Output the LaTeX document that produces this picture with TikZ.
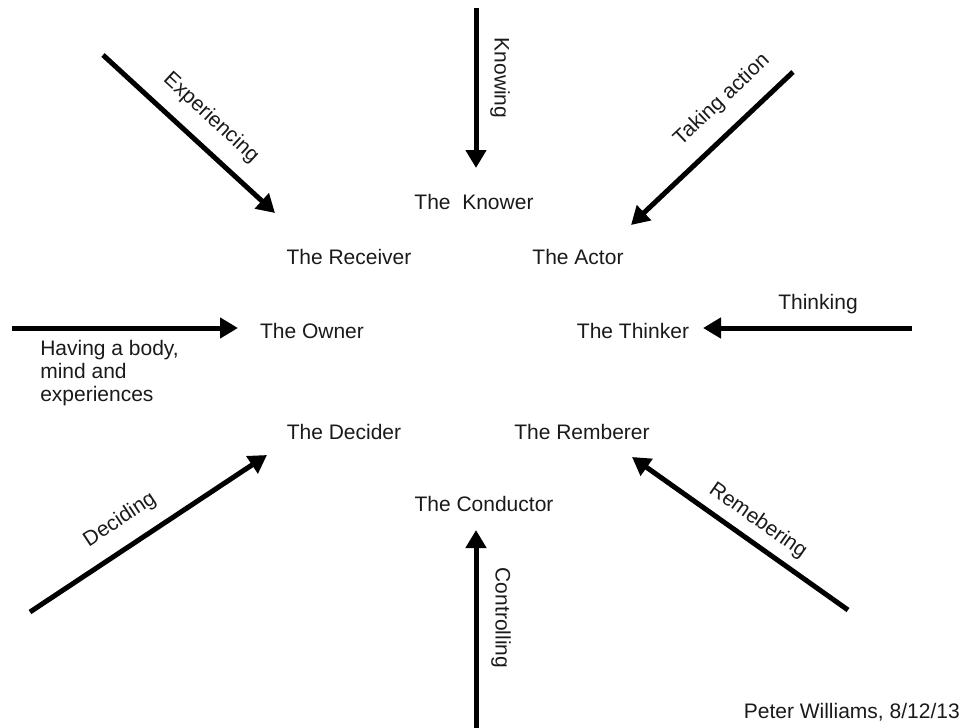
\documentclass[tikz,border=0pt]{standalone}
\usepackage{fontspec}
\setmainfont{Liberation Sans}
\usetikzlibrary{arrows.meta}

\begin{document}
\begin{tikzpicture}[x=0.75pt,y=-0.75pt]
    \def\arrowWidth{3.75pt}
    \definecolor{textColour}{HTML}{1A1A1A}
    \tikzset{
        role/.style={anchor=base,inner sep=0pt,text=textColour,font=\fontsize{15.75}{17.25}\selectfont},
        verb/.style={inner sep=0pt,text=textColour,font=\fontsize{15.75}{17.25}\selectfont},
        flow/.style={line width=\arrowWidth,-{Triangle[length=13.5pt,width=15pt]}}
    }

    % Fix the page size
    \useasboundingbox (0,0) rectangle (961,728);

    % Roles round the ring
    \node[role] (knower)    at (474,209) {The~\ Knower};
    \node[role] (receiver)  at (349,264) {The Receiver};
    \node[role] (actor)     at (578,264) {The Actor};
    \node[role] (owner)     at (312,338) {The Owner};
    \node[role] (thinker)   at (633,338) {The Thinker};
    \node[role] (decider)   at (344,439) {The Decider};
    \node[role] (remberer)  at (582,439) {The Remberer};
    \node[role] (conductor) at (484,511) {The Conductor};

    % Arrow ends
    \coordinate (knowTail) at (476,8);   \coordinate (knowTip) at (476,168);
    \coordinate (expTail)  at (103,55);  \coordinate (expTip)  at (275,213);
    \coordinate (actTail)  at (793,72);  \coordinate (actTip)  at (631,225);
    \coordinate (bodyTail) at (12,328);  \coordinate (bodyTip) at (238,328);
    \coordinate (thinkTail) at (912,328); \coordinate (thinkTip) at (703,328);
    \coordinate (decTail)  at (30,612);  \coordinate (decTip)  at (267,455);
    \coordinate (remTail)  at (848,610); \coordinate (remTip)  at (632,457);
    \coordinate (conTail)  at (476,728); \coordinate (conTip)  at (476,530);

    % Draw arrows
    \foreach \from/\to in {knowTail/knowTip,expTail/expTip,actTail/actTip,bodyTail/bodyTip,
                           thinkTail/thinkTip,decTail/decTip,remTail/remTip,conTail/conTip}
        \draw[flow] (\from) -- (\to);

    % Label arrows
    \node[verb,rotate=-90]   (knowing)      at (500,78)  {Knowing};
    \node[verb,rotate=-42.6] (experiencing) at (211,118) {Experiencing};
    \node[verb,rotate=43.4]  (takingAction) at (722,100) {Taking action};
    \node[verb]              (thinking)     at (818,304) {Thinking};
    \node[verb,rotate=33.5]  (deciding)     at (120,520) {Deciding};
    \node[verb,rotate=-35.3] (remebering)   at (758,521) {Remebering};
    \node[verb,rotate=-90]   (controlling)  at (501,618) {Controlling};
    \node[verb,align=left,anchor=north west] (having) at (40,340) {Having a body,\\mind and\\experiences};

    % Signature
    \node[role,anchor=base east] (signature) at (960,718) {Peter Williams, 8/12/13};

\end{tikzpicture}
\end{document}
